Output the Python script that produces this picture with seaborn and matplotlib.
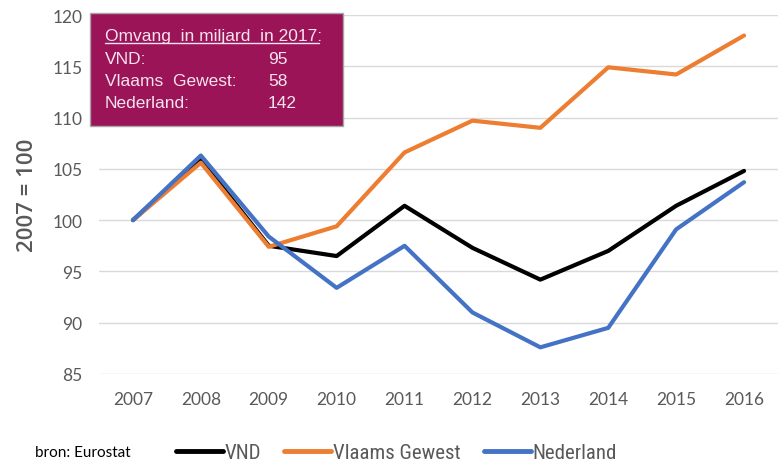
import pandas as pd
import seaborn as sns
import matplotlib.pyplot as plt
from matplotlib import font_manager
from matplotlib.lines import Line2D

# values (index 2007 = 100)
years = [2007, 2008, 2009, 2010, 2011, 2012, 2013, 2014, 2015, 2016]
vnd = [100, 105.9, 97.5, 96.5, 101.4, 97.3, 94.2, 97.0, 101.4, 104.8]
vlaams = [100, 105.6, 97.4, 99.4, 106.6, 109.7, 109.0, 114.9, 114.2, 118.0]
nederland = [100, 106.3, 98.4, 93.4, 97.5, 91.0, 87.6, 89.5, 99.1, 103.7]
series_names = ['VND', 'Vlaams Gewest', 'Nederland']
colors = ['#000000', '#ED7D31', '#4472C4']
box_labels = ['VND:', 'Vlaams  Gewest:', 'Nederland:']
box_values = ['95', '58', '142']

df = pd.DataFrame({
    'jaar': years * 3,
    'waarde': vnd + vlaams + nederland,
    'reeks': sum([[n] * len(years) for n in series_names], []),
})

sns.set_theme(style='white')
available = {f.name for f in font_manager.fontManager.ttflist}
narrow = 'Liberation Sans'
for cand in ['Liberation Sans Narrow', 'Arial Narrow', 'Roboto Condensed', 'Open Sans Condensed']:
    if cand in available:
        narrow = cand
        break
plt.rcParams['font.family'] = ['Lato', 'DejaVu Sans']

fig = plt.figure(figsize=(7.83, 4.64), dpi=100)
ax = fig.add_axes([99 / 783, 1 - 375 / 464, 679 / 783, 359 / 464])

sns.lineplot(data=df, x='jaar', y='waarde', hue='reeks', hue_order=series_names,
             palette=colors, linewidth=3, ax=ax, legend=False)

ax.set_xlim(2006.5, 2016.5)
ax.set_ylim(85, 120)
ax.set_xticks(years)
ax.set_yticks(range(85, 121, 5))
ax.grid(axis='y', color='#D9D9D9', linewidth=1)
ax.set_axisbelow(True)
for s in ax.spines.values():
    s.set_visible(False)
ax.tick_params(axis='both', length=0, labelsize=12.5, labelcolor='#595959')
ax.tick_params(axis='x', pad=12)
ax.tick_params(axis='y', pad=12)
ax.set_xlabel('')
ax.set_ylabel('2007 = 100', fontsize=16, color='#595959', family='Open Sans', fontweight='semibold')
ax.yaxis.set_label_coords(-0.09, 0.5)

# info box
box = plt.Rectangle((90 / 783, 1 - 127 / 464), 253 / 783, 113 / 464, transform=fig.transFigure,
                    facecolor='#9B1458', edgecolor='#A6A6A6', linewidth=1, zorder=5)
fig.add_artist(box)
tx = dict(color='#F6E3EE', fontsize=12.5, family='Liberation Sans', va='center', zorder=6)
fig.text(105 / 783, 1 - 36 / 464, 'Omvang  in miljard  in 2017:', **tx)
fig.add_artist(Line2D([105 / 783, 319 / 783], [1 - 44 / 464, 1 - 44 / 464],
                      transform=fig.transFigure, color='#F6E3EE', linewidth=1, zorder=6))
for i, (lab, val) in enumerate(zip(box_labels, box_values)):
    y = 1 - (59 + 22.5 * i) / 464
    fig.text(105 / 783, y, lab, **tx)
    fig.text(268 / 783, y, val, **tx)

# legend and source
legsize = 15 if narrow != 'Liberation Sans' else 12
handles = [Line2D([], [], color=c, linewidth=3.5) for c in colors]
leg = fig.legend(handles, series_names, loc='center left', bbox_to_anchor=(157 / 783, 1 - 454 / 464),
                 ncol=3, frameon=False, handlelength=2.25, handletextpad=0.1, columnspacing=1.1,
                 prop={'family': narrow, 'size': legsize})
for t in leg.get_texts():
    t.set_color('#595959')
fig.text(35 / 783, 1 - 453 / 464, 'bron: Eurostat', fontsize=11, color='#000000', va='center')

fig.savefig('out.png', dpi=100)
